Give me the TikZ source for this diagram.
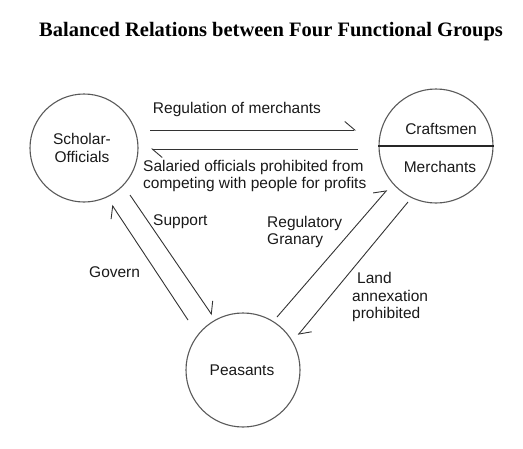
\documentclass[tikz,border=0pt]{standalone}
\usepackage{fontspec}
\setmainfont{Liberation Sans}
\newfontfamily\titlefont{Liberation Serif}
\usetikzlibrary{arrows.meta}
\begin{document}
\begin{tikzpicture}[x=1pt,y=-1pt,
  grp/.style={circle,draw=black!65,line width=1.1pt,minimum size=#1,inner sep=0pt},
  rel/.style={draw=black!80,line width=0.9pt,-{Straight Barb[left,length=10pt,width=17pt,line width=0.9pt]}},
  lbl/.style={font=\fontsize{15.5}{17.5}\selectfont,align=left,inner sep=0pt,text=black!90},
  ttl/.style={font=\titlefont\bfseries\fontsize{20.5}{24}\selectfont,inner sep=0pt}]
\useasboundingbox (0,0) rectangle (523,448);
\node[ttl] (title) at (271,32) {Balanced Relations between Four Functional Groups};
% groups
\node[grp=108pt] (so) at (84,148) {};
\node[grp=114pt] (cm) at (436,146) {};
\node[grp=114pt] (pe) at (243,370) {};
\draw[black!85,line width=1.1pt] (cm.west) -- (cm.east);
\node[lbl,align=center] (sot) at (82,148) {Scholar-\\Officials};
\node[lbl] (cmt) at (441,129) {Craftsmen};
\node[lbl] (mct) at (440,167) {Merchants};
\node[lbl] (pet) at (242,370) {Peasants};
% connector end points
\coordinate (t1) at (150,130); \coordinate (t2) at (356,130);
\coordinate (b1) at (358,149); \coordinate (b2) at (151,149);
\coordinate (g1) at (188,320); \coordinate (g2) at (112,205);
\coordinate (s1) at (130,195); \coordinate (s2) at (212,315);
\coordinate (r1) at (277,317); \coordinate (r2) at (387,190);
\coordinate (l1) at (408,202); \coordinate (l2) at (298,335);
\draw[rel] (t1) -- (t2);
\draw[rel] (b1) -- (b2);
\draw[rel] (g1) -- (g2);
\draw[rel] (s1) -- (s2);
\draw[rel] (r1) -- (r2);
\draw[rel] (l1) -- (l2);
% labels
\node[lbl] (lreg) at (237,109) {Regulation of merchants};
\node[lbl,anchor=west] (lsal) at (143,176) {Salaried officials prohibited from\\competing with people for profits};
\node[lbl,anchor=west] (lsup) at (153,222) {Support};
\node[lbl,anchor=west] (lgov) at (89,272) {Govern};
\node[lbl,anchor=west] (lgra) at (267,232) {Regulatory\\Granary};
\node[lbl,anchor=west] (llan) at (352,297) {\hspace*{5pt}Land\\annexation\\prohibited};
\end{tikzpicture}
\end{document}
